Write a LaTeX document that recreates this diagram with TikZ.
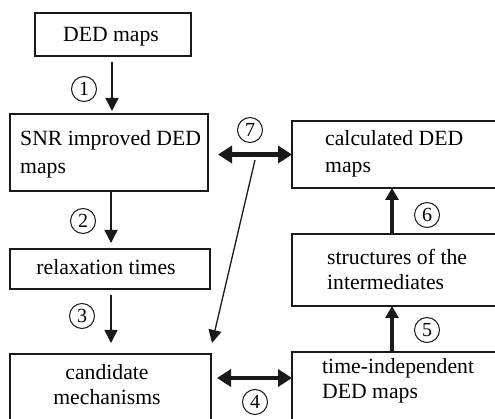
\documentclass[tikz,border=0pt]{standalone}
\usepackage{fontspec}
\setmainfont{Liberation Serif}
\usetikzlibrary{arrows.meta,calc}
\begin{document}
\begin{tikzpicture}[x=1pt,y=-1pt,
  box/.style={draw=black!90,line width=1.6pt,inner sep=0pt,outer sep=0pt,anchor=north west},
  txt/.style={inner sep=0pt,font=\fontsize{21.7}{26}\selectfont},
  num/.style={draw=black!90,circle,line width=1pt,minimum size=25pt,inner sep=0pt,font=\fontsize{20}{20}\selectfont},
  thinarr/.style={draw=black!90,line width=1.4pt,-{Triangle[width=13pt,length=13pt]}},
  thickarr/.style={draw=black!90,line width=3.2pt,-{Triangle[width=13pt,length=12pt]}},
  dblarr/.style={draw=black!90,line width=4.5pt,{Triangle[width=17pt,length=14pt]}-{Triangle[width=17pt,length=14pt]}}
]
\path[use as bounding box,clip] (0,0) rectangle (495,419);
\fill[white] (0,0) rectangle (495,419);

% boxes
\node[box,minimum width=156pt,minimum height=43pt] (ded) at (35,13) {};
\node[box,minimum width=198pt,minimum height=77pt] (snr) at (10,114) {};
\node[box,minimum width=200pt,minimum height=40pt] (rel) at (10,249) {};
\node[box,minimum width=201pt,minimum height=90pt] (cand) at (10,354) {};
\node[box,minimum width=220pt,minimum height=67pt] (calc) at (292,121) {};
\node[box,minimum width=220pt,minimum height=72pt] (str) at (292,234) {};
\node[box,minimum width=220pt,minimum height=90pt] (tind) at (292,352) {};

% texts
\node[txt,anchor=base] (t0) at (111,42) {DED maps};
\node[txt,anchor=base west] (t1a) at (20,146) {SNR improved DED};
\node[txt,anchor=base west] (t1b) at (20,174) {maps};
\node[txt,anchor=base] (t2) at (106,275) {relaxation times};
\node[txt,anchor=base] (t3a) at (107,379) {candidate};
\node[txt,anchor=base] (t3b) at (107,404) {mechanisms};
\node[txt,anchor=base west] (t4a) at (325,146) {calculated DED};
\node[txt,anchor=base west] (t4b) at (325,173) {maps};
\node[txt,anchor=base west] (t5a) at (327,265) {structures of the};
\node[txt,anchor=base west] (t5b) at (327,290) {intermediates};
\node[txt,anchor=base west] (t6a) at (322,373) {time-independent};
\node[txt,anchor=base west] (t6b) at (322,398) {DED maps};

% numbers
\node[num] (n1) at (84,89) {1};
\node[num] (n2) at (83,221) {2};
\node[num] (n3) at (82,316) {3};
\node[num] (n4) at (255,402) {4};
\node[num] (n5) at (427,330) {5};
\node[num] (n6) at (427,215) {6};
\node[num] (n7) at (250,130) {7};

% connectors
\draw[thinarr,shorten <=6pt,shorten >=3pt] ([xshift=-1pt]ded.south) -- ([xshift=-1pt]ded.south |- snr.north);
\draw[thinarr,shorten >=6pt] (snr.south -| t0.base) -- (rel.north -| t0.base);
\draw[thinarr,shorten <=6pt,shorten >=11pt] (rel.south -| t0.base) -- (cand.north -| t0.base);
\draw[thickarr] ([xshift=100pt]tind.north west) -- ([xshift=100pt]tind.north west |- str.south);
\draw[thickarr] ([xshift=100pt]str.north west) -- ([xshift=100pt]str.north west |- calc.south);
\draw[dblarr,shorten <=10pt] ([yshift=-2pt]snr.east) -- ([yshift=-2pt]snr.east -| calc.west);
\draw[dblarr,shorten <=6pt] ([yshift=-24pt]cand.north east) -- ([yshift=-24pt]cand.north east -| tind.west);
\coordinate (d7) at (255,160);
\draw[thinarr,line width=1.3pt] (d7) -- ([xshift=1pt,yshift=11pt]cand.north east);
\end{tikzpicture}
\end{document}
